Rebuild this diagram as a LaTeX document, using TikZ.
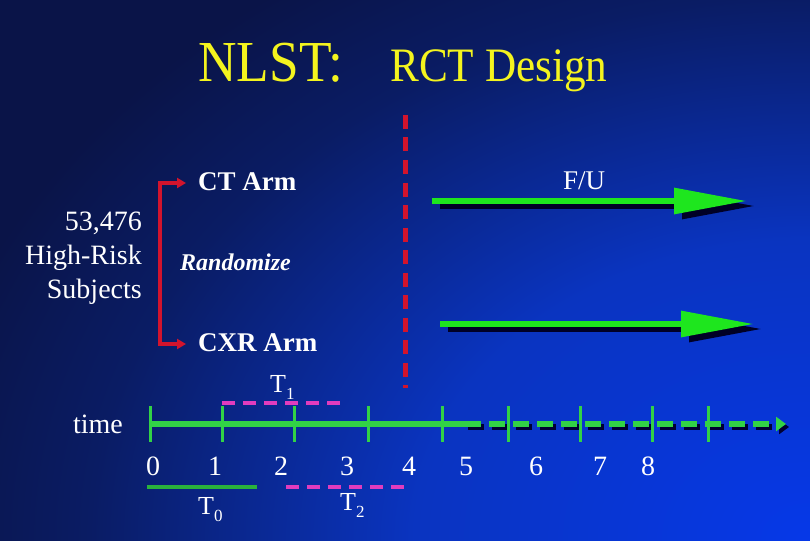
\documentclass[tikz,border=0pt]{standalone}
\usepackage{fontspec}
\setmainfont{Liberation Serif}
\usepackage{graphicx}
\usetikzlibrary{arrows.meta}
\definecolor{bgdark}{HTML}{0A1448}
\definecolor{bgmid}{HTML}{0A1C64}
\definecolor{bgblue}{HTML}{0A34C0}
\definecolor{bglight}{HTML}{0638E8}
\definecolor{ygold}{HTML}{F4F41E}
\definecolor{garrow}{HTML}{1EE61E}
\definecolor{gline}{HTML}{32D246}
\definecolor{rline}{HTML}{D2142D}
\definecolor{mag}{HTML}{E03CBE}
\pgfdeclareradialshading{bgshade}{\pgfpoint{0bp}{0bp}}{color(0bp)=(bglight); color(11bp)=(bgblue); color(20bp)=(bgmid); color(25bp)=(bgdark); color(50bp)=(bgdark)}
\tikzset{
  lbl/.style={text=white, inner sep=0pt, anchor=base},
  armtxt/.style={lbl, font=\fontsize{27}{30}\selectfont\bfseries, anchor=base west},
  numtxt/.style={lbl, font=\fontsize{28}{30}\selectfont},
  bigarrow/.style={draw=garrow, line width=6pt, -{Triangle[length=73pt,width=25pt]}},
  shadowarrow/.style={draw=black!85!blue, line width=6pt, -{Triangle[length=73pt,width=25pt]}},
  tick/.style={draw=gline, line width=3pt},
  pinkdash/.style={draw=mag, line width=4pt, dash pattern=on 13pt off 8pt},
}
\newcommand{\Tsub}[2]{T\raisebox{-7pt}{\fontsize{17}{17}\selectfont #2}}
\begin{document}
\begin{tikzpicture}[x=1pt,y=-1pt]
\useasboundingbox (0,0) rectangle (810,540);
\begin{scope}
\clip (0,0) rectangle (810,540);
\fill[bgdark] (0,0) rectangle (810,540);
\shade[shading=bgshade] (810,540) ellipse (900 and 680);
\end{scope}

% title
\node[lbl, text=ygold, anchor=base west] (nlst) at (198,82) {\scalebox{0.92}[1]{\fontsize{58}{60}\selectfont NLST:}};
\node[lbl, text=ygold, anchor=base west] (rct) at (390,82) {\scalebox{0.9}[1]{\fontsize{48}{50}\selectfont RCT Design}};

% left text
\node[lbl, anchor=base east, font=\fontsize{28}{30}\selectfont] (n1) at (142,230) {53,476};
\node[lbl, anchor=base east, font=\fontsize{28}{30}\selectfont] (n2) at (142,264) {High-Risk};
\node[lbl, anchor=base east, font=\fontsize{28}{30}\selectfont] (n3) at (142,298) {Subjects};

% arms
\node[armtxt] (ct) at (198,190) {CT Arm};
\node[armtxt] (cxr) at (198,351) {CXR Arm};
\node[lbl, anchor=base west, font=\fontsize{24}{26}\selectfont\bfseries\itshape] (rand) at (180,270) {Randomize};
\node[lbl, font=\fontsize{27}{30}\selectfont] (fu) at (584,189) {F/U};

% bracket
\coordinate (bt) at (186,183);
\coordinate (bb) at (186,344);
\draw[draw=rline, line width=3.5pt, {Triangle[length=9pt,width=10pt]}-{Triangle[length=9pt,width=10pt]}]
  (bt) -- (160,183) -- (160,344) -- (bb);

% red dashed divider
\coordinate (rtop) at (405,115);
\coordinate (rbot) at (405,388);
\draw[draw=rline, line width=5pt, dash pattern=on 14pt off 8.5pt] (rtop) -- (rbot);

% follow-up arrows
\coordinate (a1s) at (432,201);
\coordinate (a1e) at (747,201);
\coordinate (a2s) at (440,324);
\coordinate (a2e) at (754,324);
\draw[shadowarrow] ([shift={(8,5)}]a1s) -- ([shift={(8,5)}]a1e);
\draw[bigarrow] (a1s) -- (a1e);
\draw[shadowarrow] ([shift={(8,5)}]a2s) -- ([shift={(8,5)}]a2e);
\draw[bigarrow] (a2s) -- (a2e);

% timeline
\node[lbl, anchor=base east, font=\fontsize{28}{30}\selectfont] (time) at (123,433) {time};
\coordinate (t0) at (150,424);
\coordinate (tmid) at (465,424);
\coordinate (tend) at (786,424);
\draw[draw=black!80!blue, line width=6pt, dash pattern=on 16pt off 8pt, -{Triangle[length=10pt,width=14pt]}] ([shift={(3,3)}]tmid) -- ([shift={(3,3)}]tend);
\draw[draw=gline, line width=6pt] (t0) -- (tmid);
\draw[draw=gline, line width=6pt, dash pattern=on 16pt off 8pt, -{Triangle[length=10pt,width=14pt]}] (tmid) -- (tend);
\foreach \x in {150,222,294,368,442,508,580,652,708}
  \draw[tick] (\x,406) -- (\x,442);

% numbers
\foreach \x/\n in {153/0,215/1,281/2,347/3,409/4,466/5,536/6,600/7,648/8}
  \node[numtxt] (num\n) at (\x,475) {\n};

% intervals
\coordinate (t1a) at (222,403);
\coordinate (t1b) at (342,403);
\draw[pinkdash] (t1a) -- (t1b);
\node[lbl, anchor=base west, font=\fontsize{26}{28}\selectfont] (T1) at (270,392) {\Tsub{T}{1}};
\coordinate (t0a) at (147,487);
\coordinate (t0b) at (257,487);
\draw[draw=gline!85!black, line width=4pt] (t0a) -- (t0b);
\node[lbl, anchor=base west, font=\fontsize{26}{28}\selectfont] (T0) at (198,514) {\Tsub{T}{0}};
\coordinate (t2a) at (286,487);
\coordinate (t2b) at (404,487);
\draw[pinkdash] (t2a) -- (t2b);
\node[lbl, anchor=base west, font=\fontsize{26}{28}\selectfont] (T2) at (340,510) {\Tsub{T}{2}};
\end{tikzpicture}
\end{document}
